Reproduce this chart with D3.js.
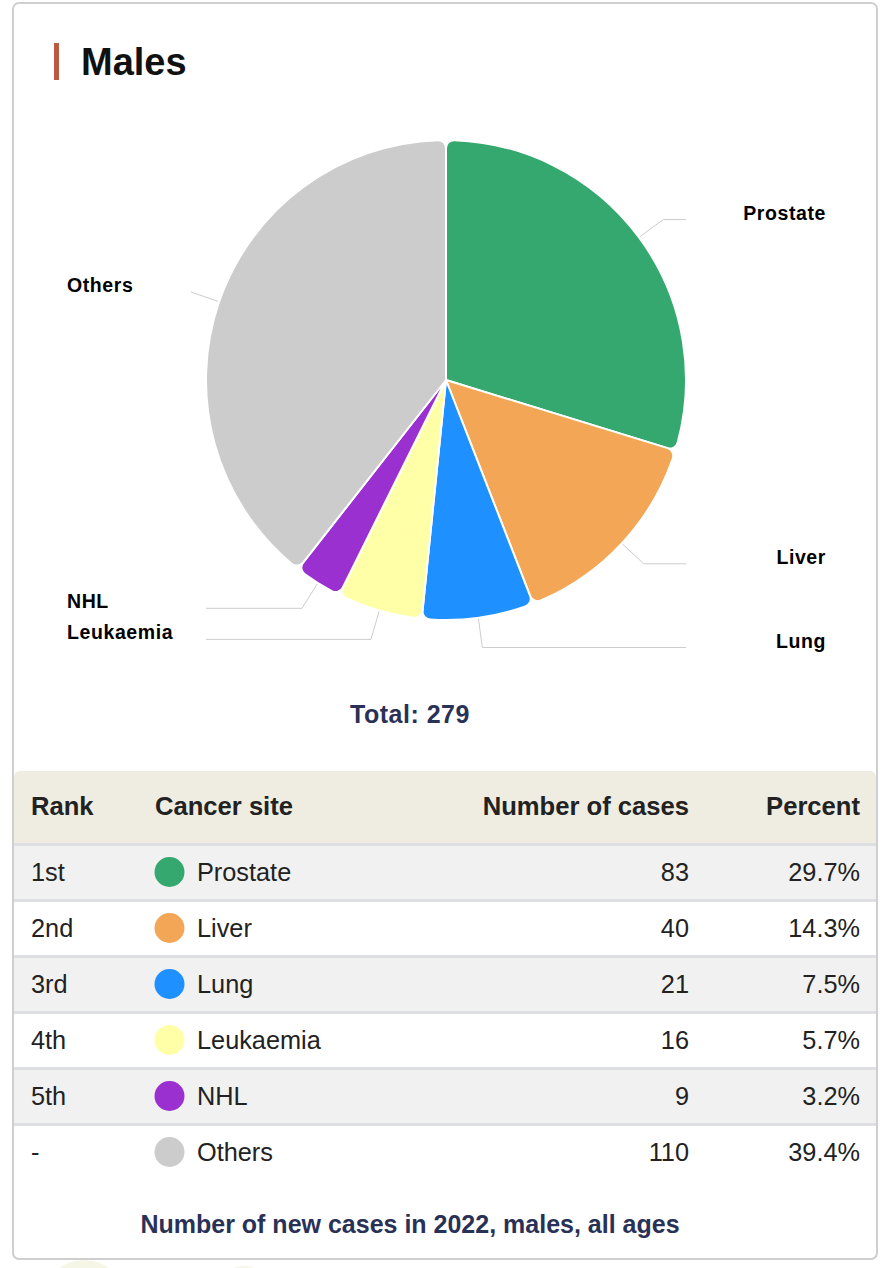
<!DOCTYPE html>
<html>
<head>
<meta charset="utf-8">
<script src="https://cdn.jsdelivr.net/npm/d3@7"></script>
<style>
  html, body { margin: 0; padding: 0; background: #fff; }
  svg { display: block; }
  text { font-family: "Liberation Sans", Arial, Helvetica, sans-serif; }
</style>
</head>
<body>
<svg id="chart" width="882" height="1268"></svg>
<script>
// Cancer sites, males, 2022
const sites  = ["Prostate", "Liver", "Lung", "Leukaemia", "NHL", "Others"];
const cases  = [83, 40, 21, 16, 9, 110];
const ranks  = ["1st", "2nd", "3rd", "4th", "5th", "-"];
const colors = ["#35a86f", "#f3a756", "#1f90ff", "#ffffa8", "#9a30cf", "#cccccc"];
const headers = ["Rank", "Cancer site", "Number of cases", "Percent"];
const title = "Males";
const footnote = "Number of new cases in 2022, males, all ages";

const total = d3.sum(cases);
const data = sites.map((s, i) => ({ site: s, value: cases[i], rank: ranks[i], color: colors[i] }));
const fmtPct = v => (v / total * 100).toFixed(1) + "%";

const svg = d3.select("#chart");

// faint background blobs peeking below the card
svg.append("circle").attr("cx", 84).attr("cy", 1302).attr("r", 42).attr("fill", "#f5f6e6");
svg.append("circle").attr("cx", 244).attr("cy", 1296).attr("r", 30).attr("fill", "#f5f6e6");

// card
svg.append("rect")
  .attr("x", 13).attr("y", 3).attr("width", 864).attr("height", 1256)
  .attr("rx", 6).attr("fill", "#fff").attr("stroke", "#cfcfcf").attr("stroke-width", 2);

// heading with accent bar
svg.append("rect").attr("x", 54).attr("y", 43).attr("width", 5).attr("height", 37).attr("fill", "#bb5a41");
svg.append("text").attr("x", 81).attr("y", 75)
  .attr("font-size", 38).attr("font-weight", 700).attr("fill", "#111")
  .text(title);

// pie
const cx = 446, cy = 380, R = 240, labelR = 270;
const pie = d3.pie().sort(null).value(d => d.value);
const arcs = pie(data);
const arc = d3.arc().innerRadius(0).outerRadius(R).cornerRadius(8);

const g = svg.append("g").attr("transform", `translate(${cx},${cy})`);

// leader lines and labels
const pt = (r, a) => [r * Math.sin(a), -r * Math.cos(a)];
arcs.forEach(a => {
  const mid = (a.startAngle + a.endAngle) / 2;
  const right = mid < Math.PI;
  const p0 = pt(R + 1, mid);
  const p1 = pt(labelR, mid);
  const pts = [p0, p1];
  const endX = right ? 686 - cx : 206 - cx;
  if (right ? endX > p1[0] : endX < p1[0]) pts.push([endX, p1[1]]);
  g.append("path")
    .attr("d", d3.line()(pts))
    .attr("fill", "none").attr("stroke", "#cccccc").attr("stroke-width", 1);
  g.append("text")
    .attr("x", right ? 826 - cx : 67 - cx)
    .attr("y", p1[1])
    .attr("text-anchor", right ? "end" : "start")
    .attr("font-size", 19.5).attr("font-weight", 700).attr("fill", "#000")
    .attr("letter-spacing", 0.6)
    .text(a.data.site);
});

g.selectAll("path.slice").data(arcs).join("path")
  .attr("class", "slice")
  .attr("d", arc)
  .attr("fill", d => d.data.color)
  .attr("stroke", "#fff").attr("stroke-width", 2).attr("stroke-linejoin", "round");

// total
svg.append("text").attr("x", 410).attr("y", 723)
  .attr("text-anchor", "middle").attr("font-size", 25).attr("font-weight", 700)
  .attr("fill", "#2a3157").attr("letter-spacing", 0.5)
  .text(`Total: ${total}`);

// table
const tx0 = 14, tx1 = 876, headTop = 771, headBottom = 843, rowH = 56;
const headPath = d3.path();
headPath.moveTo(tx0, headBottom);
headPath.lineTo(tx0, headTop + 6);
headPath.arcTo(tx0, headTop, tx0 + 6, headTop, 6);
headPath.lineTo(tx1 - 6, headTop);
headPath.arcTo(tx1, headTop, tx1, headTop + 6, 6);
headPath.lineTo(tx1, headBottom);
headPath.closePath();
svg.append("path").attr("d", headPath.toString()).attr("fill", "#efede1");

const colX = [31, 155, 689, 860];
const colAnchor = ["start", "start", "end", "end"];
svg.append("g").selectAll("text").data(headers).join("text")
  .attr("x", (d, i) => colX[i]).attr("y", 815)
  .attr("text-anchor", (d, i) => colAnchor[i])
  .attr("font-size", 25.6).attr("font-weight", 700).attr("fill", "#222")
  .text(d => d);

const rows = svg.append("g").selectAll("g.row").data(data).join("g")
  .attr("class", "row")
  .attr("transform", (d, i) => `translate(0,${headBottom + i * rowH})`);

rows.append("rect")
  .attr("x", tx0).attr("y", 0).attr("width", tx1 - tx0).attr("height", rowH)
  .attr("fill", (d, i) => i % 2 === 0 ? "#f1f1f1" : "#fff");
rows.append("rect")
  .attr("x", tx0).attr("y", 0).attr("width", tx1 - tx0).attr("height", 3)
  .attr("fill", "#dedfe3");
const rowFont = 25.3;
rows.append("text").attr("x", colX[0]).attr("y", 38)
  .attr("font-size", rowFont).attr("fill", "#222").text(d => d.rank);
rows.append("circle").attr("cx", 169.5).attr("cy", 29).attr("r", 15).attr("fill", d => d.color);
rows.append("text").attr("x", 197).attr("y", 38)
  .attr("font-size", rowFont).attr("fill", "#222").text(d => d.site);
rows.append("text").attr("x", colX[2]).attr("y", 38).attr("text-anchor", "end")
  .attr("font-size", rowFont).attr("fill", "#222").text(d => d.value);
rows.append("text").attr("x", colX[3]).attr("y", 38).attr("text-anchor", "end")
  .attr("font-size", rowFont).attr("fill", "#222").text(d => fmtPct(d.value));

// footnote
svg.append("text").attr("x", 410).attr("y", 1233)
  .attr("text-anchor", "middle").attr("font-size", 25).attr("font-weight", 700)
  .attr("fill", "#2a3157")
  .text(footnote);
</script>
</body>
</html>
